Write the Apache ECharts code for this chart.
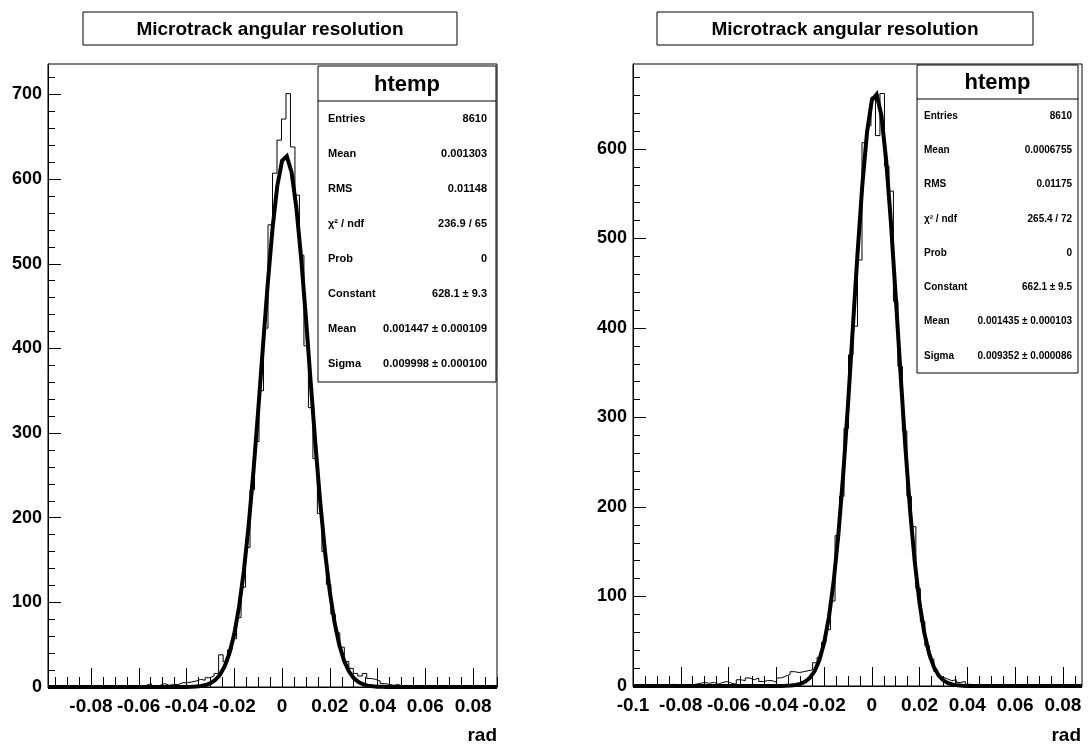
<!DOCTYPE html>
<html><head><meta charset="utf-8">
<script src="https://cdn.jsdelivr.net/npm/echarts@6/dist/echarts.min.js"></script>
<style>html,body{margin:0;padding:0;background:#fff}#c{width:1089px;height:749px}</style>
</head><body><div id="c"></div>
<script>
const titleText = 'Microtrack angular resolution';
const xAxisName = 'rad';
const histName = 'htemp';

// Left panel histogram (100 bins)
const leftRange = [-0.098, 0.090];
const leftCounts = [
  0,0,0,0,0,0,0,0,1,0,
  0,0,1,0,2,0,1,0,1,1,
  1,2,4,1,2,4,2,3,3,5,
  5,6,7,9,8,11,13,16,38,30,
  44,57,82,118,165,233,290,350,424,546,
  607,646,671,701,638,581,510,403,330,270,
  205,160,121,86,64,47,30,22,16,13,
  16,10,9,7,4,3,2,3,1,2,
  1,0,1,0,0,0,0,0,0,0,
  0,0,0,0,0,0,0,2,0,0
];
const leftFitX = [-0.098,-0.044,-0.042,-0.040,-0.038,-0.036,-0.034,-0.032,-0.030,-0.028,-0.026,-0.024,-0.022,-0.020,-0.018,-0.016,-0.014,-0.012,-0.010,-0.008,-0.006,-0.004,-0.002,0,0.002,0.004,0.006,0.008,0.010,0.012,0.014,0.016,0.018,0.020,0.022,0.024,0.026,0.028,0.030,0.032,0.034,0.036,0.038,0.040,0.042,0.044,0.046,0.090];
const leftFitY = [0,0.02,0.05,0.12,0.26,0.56,1.17,2.33,4.46,8.21,14.5,24.6,40.1,62.9,94.7,137.0,190.4,254.2,326.1,402.0,475.9,541.5,591.9,621.6,627.1,607.9,566.2,506.7,435.6,359.8,285.6,217.8,159.5,112.3,75.9,49.3,30.8,18.5,10.6,5.9,3.1,1.6,0.79,0.37,0.16,0.07,0.03,0];
const leftYMax = 736;
const leftXTicks = [-0.08,-0.06,-0.04,-0.02,0,0.02,0.04,0.06,0.08];
const leftYTicks = [0,100,200,300,400,500,600,700];
const leftStats = [
  ['Entries','8610'],['Mean','0.001303'],['RMS','0.01148'],['\u03c7\u00b2 / ndf','236.9 / 65'],
  ['Prob','0'],['Constant','628.1 \u00b1 9.3'],['Mean','0.001447 \u00b1 0.000109'],['Sigma','0.009998 \u00b1 0.000100']
];

// Right panel histogram (100 bins)
const rightRange = [-0.100, 0.088];
const rightCounts = [
  0,0,0,1,0,0,1,0,2,1,
  0,1,1,2,3,4,3,4,2,4,
  5,3,2,7,6,9,7,9,5,6,
  6,4,9,11,13,16,15,16,17,18,
  26,32,49,63,95,168,212,288,370,402,
  476,607,626,658,615,662,581,553,430,357,
  285,212,178,109,72,45,30,16,10,8,
  6,7,4,5,2,1,0,1,0,0,
  0,0,1,0,0,0,0,0,0,0,
  0,0,0,0,0,0,0,0,0,0
];
const rightFitX = [-0.100,-0.042,-0.040,-0.038,-0.036,-0.034,-0.032,-0.030,-0.028,-0.026,-0.024,-0.022,-0.020,-0.018,-0.016,-0.014,-0.012,-0.010,-0.008,-0.006,-0.004,-0.002,0,0.002,0.004,0.006,0.008,0.010,0.012,0.014,0.016,0.018,0.020,0.022,0.024,0.026,0.028,0.030,0.032,0.034,0.036,0.038,0.040,0.042,0.088];
const rightFitY = [0,0.02,0.04,0.09,0.22,0.51,1.11,2.33,4.67,8.96,16.4,28.7,47.9,76.4,116.4,169.6,235.9,313.5,398.1,482.7,559.2,618.9,654.4,660.9,637.7,587.7,517.5,435.3,349.8,268.5,196.9,137.9,92.3,59.0,36.0,21.0,11.7,6.2,3.2,1.5,0.72,0.32,0.13,0.05,0];
const rightYMax = 695;
const rightXTicks = [-0.1,-0.08,-0.06,-0.04,-0.02,0,0.02,0.04,0.06,0.08];
const rightYTicks = [0,100,200,300,400,500,600];
const rightStats = [
  ['Entries','8610'],['Mean','0.0006755'],['RMS','0.01175'],['\u03c7\u00b2 / ndf','265.4 / 72'],
  ['Prob','0'],['Constant','662.1 \u00b1 9.5'],['Mean','0.001435 \u00b1 0.000103'],['Sigma','0.009352 \u00b1 0.000086']
];

const FONT = 'Liberation Sans, Arial, Helvetica, sans-serif';

function stepData(range, counts) {
  const n = counts.length, w = (range[1] - range[0]) / n;
  const d = counts.map((c, k) => [range[0] + k * w, c]);
  d.push([range[1], counts[n - 1]]);
  return d;
}
function minorList(min, max, step, every) {
  const out = [];
  const a = Math.ceil(min / step - 1e-9), b = Math.floor(max / step + 1e-9);
  for (let i = a; i <= b; i++) if (i % every !== 0) out.push(+(i * step).toFixed(6));
  return out;
}
function xAxes(gi, range, ticks) {
  return [
    { type: 'value', gridIndex: gi, position: 'bottom', min: range[0], max: range[1],
      axisLine: { show: true, onZero: false, lineStyle: { color: '#000', width: 1 } },
      axisTick: { show: true, inside: true, length: 19, customValues: ticks, lineStyle: { color: '#000', width: 1 } },
      axisLabel: { show: true, customValues: ticks, margin: 10, color: '#000', fontWeight: 'bold', fontSize: 19, fontFamily: FONT, formatter: v => String(v) },
      splitLine: { show: false } },
    { type: 'value', gridIndex: gi, position: 'bottom', min: range[0], max: range[1],
      axisLine: { show: false, onZero: false },
      axisTick: { show: true, inside: true, length: 10, customValues: minorList(range[0], range[1], 0.005, 4), lineStyle: { color: '#000', width: 1 } },
      axisLabel: { show: false }, splitLine: { show: false } }
  ];
}
function yAxes(gi, max, ticks) {
  return [
    { type: 'value', gridIndex: gi, position: 'left', min: 0, max: max,
      axisLine: { show: true, onZero: false, lineStyle: { color: '#000', width: 1 } },
      axisTick: { show: true, inside: true, length: 13, customValues: ticks, lineStyle: { color: '#000', width: 1 } },
      axisLabel: { show: true, customValues: ticks, margin: 6, color: '#000', fontWeight: 'bold', fontSize: 18, fontFamily: FONT },
      splitLine: { show: false } },
    { type: 'value', gridIndex: gi, position: 'left', min: 0, max: max,
      axisLine: { show: false, onZero: false },
      axisTick: { show: true, inside: true, length: 7, customValues: minorList(0, max, 20, 5), lineStyle: { color: '#000', width: 1 } },
      axisLabel: { show: false }, splitLine: { show: false } }
  ];
}
function statsBox(x0, y0, x1, yH, y1, rows, fs, padL, padR) {
  const els = [];
  els.push({ type: 'rect', z: 100, shape: { x: x0, y: y0, width: x1 - x0, height: y1 - y0 }, style: { fill: '#fff', stroke: '#000', lineWidth: 1 } });
  els.push({ type: 'line', z: 101, shape: { x1: x0, y1: yH, x2: x1, y2: yH }, style: { stroke: '#000', lineWidth: 1 } });
  els.push({ type: 'text', z: 102, x: (x0 + x1) / 2, y: (y0 + yH) / 2 + 1,
    style: { text: histName, font: 'bold 22px ' + FONT, fill: '#000', align: 'center', verticalAlign: 'middle', textAlign: 'center', textVerticalAlign: 'middle' } });
  const rh = (y1 - yH) / rows.length;
  rows.forEach((r, i) => {
    const yc = yH + (i + 0.5) * rh;
    els.push({ type: 'text', z: 102, x: x0 + padL, y: yc,
      style: { text: r[0], font: 'bold ' + fs + 'px ' + FONT, fill: '#000', align: 'left', verticalAlign: 'middle', textAlign: 'left', textVerticalAlign: 'middle' } });
    els.push({ type: 'text', z: 102, x: x1 - padR, y: yc,
      style: { text: r[1], font: 'bold ' + fs + 'px ' + FONT, fill: '#000', align: 'right', verticalAlign: 'middle', textAlign: 'right', textVerticalAlign: 'middle' } });
  });
  return els;
}
function titleBox(x0, y0, w, h) {
  return [
    { type: 'rect', z: 100, shape: { x: x0, y: y0, width: w, height: h }, style: { fill: '#fff', stroke: '#000', lineWidth: 1 } },
    { type: 'text', z: 101, x: x0 + w / 2, y: y0 + h / 2 + 1,
      style: { text: titleText, font: 'bold 19px ' + FONT, fill: '#000', align: 'center', verticalAlign: 'middle', textAlign: 'center', textVerticalAlign: 'middle' } }
  ];
}
function axisNameText(xRight, y) {
  return { type: 'text', z: 101, x: xRight, y: y,
    style: { text: xAxisName, font: 'bold 19px ' + FONT, fill: '#000', align: 'right', verticalAlign: 'middle', textAlign: 'right', textVerticalAlign: 'middle' } };
}

const chart = echarts.init(document.getElementById('c'), null, { renderer: 'canvas' });
const histStyle = { color: '#000', width: 1 };
const fitStyle = { color: '#000', width: 4, join: 'miter' };
chart.setOption({
  animation: false,
  backgroundColor: '#fff',
  grid: [
    { left: 48, right: 592, top: 64, bottom: 62, show: true, borderColor: '#000', borderWidth: 1, backgroundColor: 'transparent' },
    { left: 633, right: 7, top: 64, bottom: 63, show: true, borderColor: '#000', borderWidth: 1, backgroundColor: 'transparent' }
  ],
  xAxis: [].concat(xAxes(0, leftRange, leftXTicks), xAxes(1, rightRange, rightXTicks)),
  yAxis: [].concat(yAxes(0, leftYMax, leftYTicks), yAxes(1, rightYMax, rightYTicks)),
  series: [
    { type: 'line', xAxisIndex: 0, yAxisIndex: 0, data: stepData(leftRange, leftCounts), step: 'end', showSymbol: false, symbol: 'none', lineStyle: histStyle, z: 2 },
    { type: 'line', xAxisIndex: 0, yAxisIndex: 0, data: leftFitX.map((x, i) => [x, leftFitY[i]]), showSymbol: false, symbol: 'none', lineStyle: fitStyle, z: 3 },
    { type: 'line', xAxisIndex: 2, yAxisIndex: 2, data: stepData(rightRange, rightCounts), step: 'end', showSymbol: false, symbol: 'none', lineStyle: histStyle, z: 2 },
    { type: 'line', xAxisIndex: 2, yAxisIndex: 2, data: rightFitX.map((x, i) => [x, rightFitY[i]]), showSymbol: false, symbol: 'none', lineStyle: fitStyle, z: 3 }
  ],
  graphic: [].concat(
    titleBox(83, 12, 374, 33),
    titleBox(657, 12, 376, 33),
    statsBox(318, 66, 496, 101, 382, leftStats, 11, 10, 9),
    statsBox(917, 65, 1078, 99, 373, rightStats, 10, 7, 6),
    [axisNameText(497, 736), axisNameText(1081, 736)]
  )
});
</script></body></html>
